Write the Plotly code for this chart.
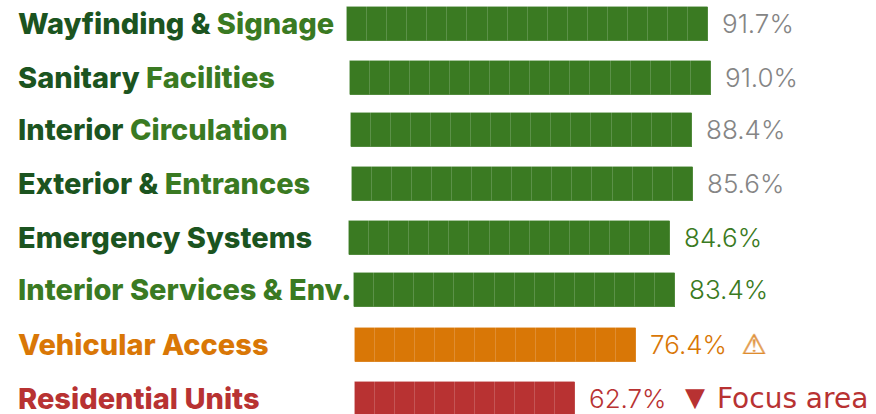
import plotly.graph_objects as go

DARK = "#1b5420"
GREEN = "#3a7a22"
ORANGE = "#d97706"
RED = "#b83232"
GREY = "#858585"

label_first = ["Wayfinding & ", "Sanitary ", "Interior ", "Exterior & ", "Emergency Systems", "", "", ""]
label_second = ["Signage", "Facilities", "Circulation", "Entrances", "", "Interior Services & Env.", "Vehicular Access", "Residential Units"]
second_colors = [GREEN, GREEN, GREEN, GREEN, GREEN, GREEN, ORANGE, RED]
values = [91.7, 91.0, 88.4, 85.6, 84.6, 83.4, 76.4, 62.7]
value_colors = [GREY, GREY, GREY, GREY, GREEN, GREEN, ORANGE, RED]
bar_colors = [GREEN, GREEN, GREEN, GREEN, GREEN, GREEN, ORANGE, RED]
segment_counts = [18, 18, 17, 17, 16, 16, 14, 11]
row_centers = [24, 78, 130, 184, 238, 290, 345, 399]
bar_starts = [347, 349.5, 350.5, 351.5, 349, 354, 355, 354.5]
notes = ["", "", "", "", "", "", "⚠", "Focus area"]
SEG = 20.08
BAR_H = 34

fig = go.Figure()
for i in range(len(values)):
    n = segment_counts[i]
    # solid underlay closes the anti-aliased seams between segments
    fig.add_bar(
        orientation="h",
        x=[SEG * n],
        y=[row_centers[i]],
        base=[bar_starts[i]],
        width=BAR_H,
        marker=dict(color=bar_colors[i], line=dict(width=0)),
        hoverinfo="skip",
        showlegend=False,
    )
    fig.add_bar(
        orientation="h",
        x=[SEG] * n,
        y=[row_centers[i]] * n,
        base=[bar_starts[i] + SEG * k for k in range(n)],
        width=BAR_H,
        marker=dict(color=bar_colors[i], line=dict(color="rgba(255,255,255,0.12)", width=1)),
        hoverinfo="skip",
        showlegend=False,
    )

LABEL_FONT = "Inter"
VALUE_FONT = "Inter"
for i in range(len(values)):
    parts = ""
    if label_first[i]:
        parts += f'<span style="color:{DARK}">{label_first[i]}</span>'
    if label_second[i]:
        parts += f'<span style="color:{second_colors[i]}">{label_second[i]}</span>'
    fig.add_annotation(x=18, y=row_centers[i], xref="x", yref="y", text=parts, showarrow=False,
                       xanchor="left", yanchor="middle", xshift=-2.5, yshift=1,
                       font=dict(family=LABEL_FONT, size=29, weight=800, color=DARK))
    right = bar_starts[i] + SEG * segment_counts[i]
    fig.add_annotation(x=right, y=row_centers[i], xref="x", yref="y", text=f"{values[i]:.1f}%",
                       showarrow=False, xanchor="left", yanchor="middle", xshift=12, yshift=1,
                       font=dict(family=VALUE_FONT, size=26, weight=300, color=value_colors[i]))
    if notes[i] == "⚠":
        for dx in (0, 0.7):
            fig.add_annotation(x=right, y=row_centers[i], xref="x", yref="y", text=notes[i], showarrow=False,
                               xanchor="left", yanchor="middle", xshift=103 + dx, yshift=1, opacity=0.6,
                               font=dict(family="DejaVu Sans", size=28, weight=700, color=value_colors[i]))
    elif notes[i]:
        fig.add_annotation(x=right, y=row_centers[i], xref="x", yref="y", text="▼", showarrow=False,
                           xanchor="left", yanchor="middle", xshift=108, yshift=2,
                           font=dict(family="DejaVu Sans", size=26, color=value_colors[i]))
        fig.add_annotation(x=right, y=row_centers[i], xref="x", yref="y", text=notes[i], showarrow=False,
                           xanchor="left", yanchor="middle", xshift=140, yshift=1,
                           font=dict(family="DejaVu Sans", size=28, color=value_colors[i]))

fig.update_layout(
    width=876, height=414, margin=dict(l=0, r=0, t=0, b=0),
    paper_bgcolor="white", plot_bgcolor="white", barmode="overlay", bargap=0,
    xaxis=dict(range=[0, 876], visible=False, fixedrange=True),
    yaxis=dict(range=[414, 0], visible=False, fixedrange=True),
)
fig.write_html("out.html", config=dict(displayModeBar=False),
               post_script="document.body.style.margin='0';document.body.style.overflow='hidden';")
